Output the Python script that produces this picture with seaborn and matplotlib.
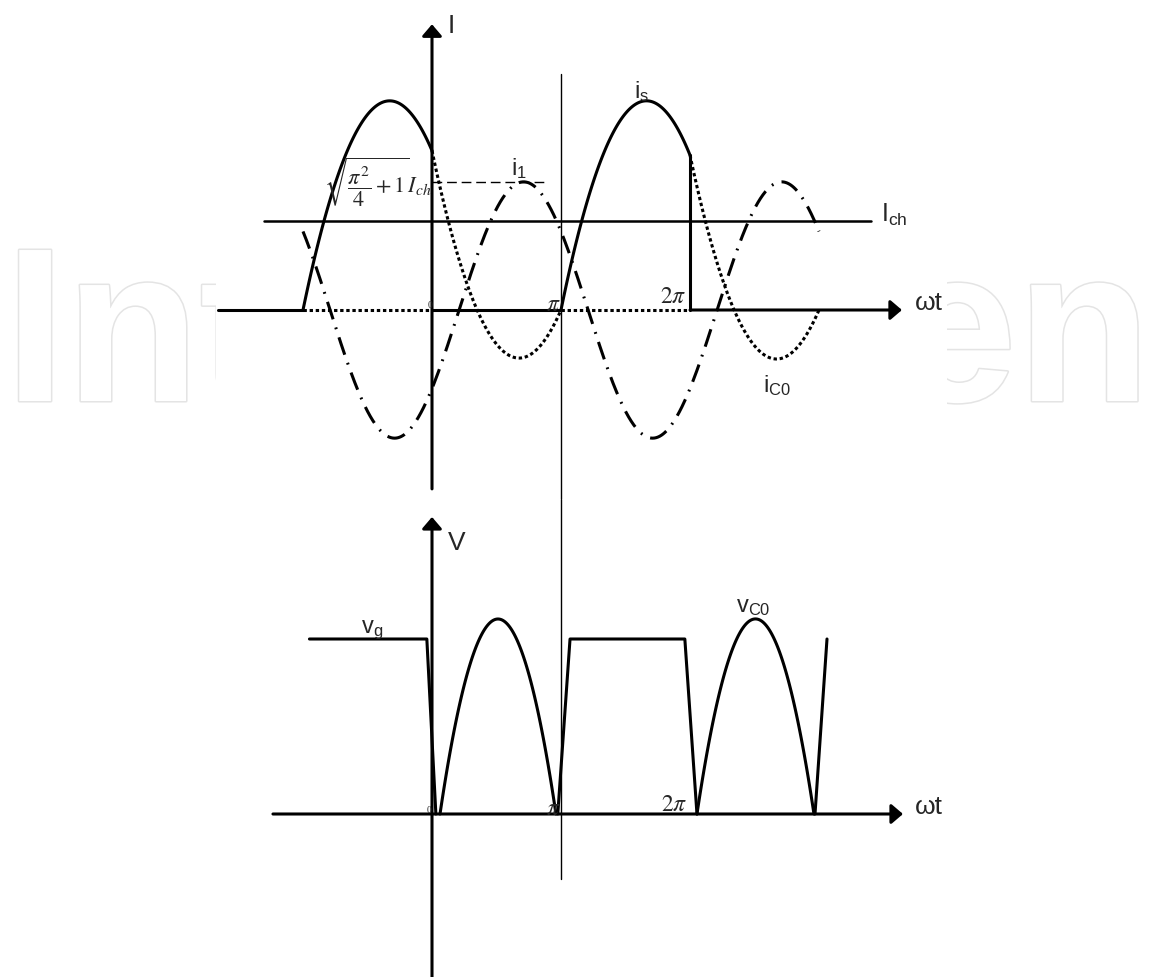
import numpy as np
import matplotlib
matplotlib.use("Agg")
import matplotlib.pyplot as plt
import matplotlib.patheffects as pe
from matplotlib.patches import Rectangle
import seaborn as sns

# x is wt/pi ; top panel in units of Ich ; bottom panel in units of vg

# --- top panel : currents
ich_level = 1.0
ich_span = [-1.30, 3.40]
i1_amp = 1.44
i1_zero = 0.21            # rising zero crossing of i1
i1_span = [-1.0, 3.0]
i1_peak_level = 1.44      # sqrt(pi^2/4+1) Ich marker
i1_peak_span = [0.0, 0.88]

is_start = [-1.0, 1.0]
is_peak_x = [-0.33, 1.67]
is_peak_y = [2.35, 2.35]
is_end = [0.0, 2.0]
is_end_y = [1.79, 1.74]
is_zero_spans = [(-1.66, -1.0), (0.0, 1.0)]

ic0_low_x = [0.67, 2.66]
ic0_low_y = [-0.54, -0.55]
ic0_end = [1.0, 3.0]
ic0_zero_spans = [(-1.0, 0.0), (1.0, 2.0)]

# --- bottom panel : voltage v_C0
vc_step_x = [[-0.95, -0.04, 0.03], [0.975, 1.07, 1.96, 2.054], [2.969, 3.062]]
vc_step_y = [[1.0, 1.0, 0.0], [0.0, 1.0, 1.0, 0.0], [0.0, 1.0]]
vc_hump_start = [0.062, 2.054]
vc_hump_peak_x = [0.504, 2.519]
vc_hump_peak_y = [1.114, 1.114]
vc_hump_end = [0.961, 2.961]


def arc(x0, y0, xm, ym, x1, y1, n=120):
    # smooth arc through start, apex and end point
    c = np.polyfit([x0, xm, x1], [y0, ym, y1], 2)
    xs = np.linspace(x0, x1, n)
    return xs, np.polyval(c, xs)


def draw(ax, x, y, lw=2.2, **kw):
    sns.lineplot(x=np.asarray(x, float), y=np.asarray(y, float), ax=ax, sort=False,
                 estimator=None, color="black", linewidth=lw, legend=False, **kw)


def arrow(ax, p0, p1, lw=2.2):
    ax.annotate("", xy=p1, xytext=p0,
                arrowprops=dict(arrowstyle="-|>,head_length=0.35,head_width=0.3",
                                color="black", lw=lw, mutation_scale=20,
                                shrinkA=0, shrinkB=0))


sns.set_theme(style="white")
plt.rcParams["font.family"] = ["Liberation Sans", "DejaVu Sans"]
plt.rcParams["mathtext.fontset"] = "custom"
plt.rcParams["mathtext.rm"] = "Liberation Sans"
plt.rcParams["mathtext.it"] = "Liberation Sans:italic"
plt.rcParams["mathtext.bf"] = "Liberation Sans:bold"

fig = plt.figure(figsize=(11.51, 9.78), dpi=100)
fig.patch.set_facecolor("white")

# watermark behind the drawing
wm = [pe.withStroke(linewidth=2.2, foreground="#e4e4e4")]
fig.text(0.004, (978 - 402) / 978, "Int", fontsize=158, family="Liberation Sans",
         weight="bold", color="white", ha="left", va="baseline", zorder=-3, path_effects=wm)
fig.text(1.0, (978 - 402) / 978, "en", fontsize=158, family="Liberation Sans",
         weight="bold", color="white", ha="right", va="baseline", zorder=-3, path_effects=wm)
fig.add_artist(Rectangle((216 / 1151, (978 - 430) / 978), (947 - 216) / 1151, 250 / 978,
                         transform=fig.transFigure, facecolor="white", edgecolor="none",
                         zorder=-2))

xlim = (-432 / 129, 719 / 129)
ax1 = fig.add_axes([0, 478 / 978, 1, 500 / 978])
ax2 = fig.add_axes([0, 0, 1, 478 / 978])
for ax in (ax1, ax2):
    ax.set_facecolor("none")
    ax.set_xlim(*xlim)
    ax.axis("off")
ax1.set_ylim((311 - 500) / 89, 311 / 89)
ax2.set_ylim((815 - 978) / 175, (815 - 500) / 175)

dotted = (0, (1.1, 0.9))
dashdot = (0, (6, 2.8, 0.6, 2.8))

# ---------------- top panel
arrow(ax1, (0, -2.01), (0, 3.21))
for a, b in is_zero_spans:
    draw(ax1, [a, b], [0, 0])
arrow(ax1, (2.0, 0), (3.643, 0))
draw(ax1, ich_span, [ich_level, ich_level], lw=1.8)
draw(ax1, [1.0, 1.0], [(311 - 75) / 89, (311 - 500) / 89], lw=1.0)

for k in range(2):
    xs, ys = arc(is_start[k], 0, is_peak_x[k], is_peak_y[k], is_end[k], is_end_y[k])
    draw(ax1, xs, ys)
    xs, ys = arc(is_end[k], is_end_y[k], ic0_low_x[k], ic0_low_y[k], ic0_end[k], 0)
    draw(ax1, xs, ys, linestyle=dotted)
draw(ax1, [is_end[1], is_end[1]], [is_end_y[1], 0])
for a, b in ic0_zero_spans:
    draw(ax1, [a, b], [0, 0], linestyle=dotted)

x1 = np.linspace(i1_span[0], i1_span[1], 600)
draw(ax1, x1, i1_amp * np.sin(np.pi * (x1 - i1_zero)), linestyle=dashdot)
draw(ax1, i1_peak_span, [i1_peak_level, i1_peak_level], lw=1.0, linestyle=(0, (7, 3.5)))

ax1.text(0.12, 3.124, "I", fontsize=19, va="baseline", ha="left")
ax1.text(3.74, 0.01, "ωt", fontsize=19, va="baseline", ha="left")
ax1.text(3.48, ich_level, r"$\mathrm{I_{ch}}$", fontsize=18, va="baseline", ha="left")
ax1.text(0.61, 1.528, r"$\mathrm{i_1}$", fontsize=17, va="baseline", ha="left")
ax1.text(1.565, 2.393, r"$\mathrm{i_s}$", fontsize=17, va="baseline", ha="left")
ax1.text(2.565, -0.91, r"$\mathrm{i_{C0}}$", fontsize=17, va="baseline", ha="left")
ax1.text(0.0, 0.034, "0", fontsize=7, family="Liberation Serif", va="baseline", ha="right")
ax1.text(1.0, 0.0, r"$\pi$", fontsize=17, math_fontfamily="stix", va="baseline", ha="right")
ax1.text(1.97, 0.09, r"$2\pi$", fontsize=17, math_fontfamily="stix", va="baseline", ha="right")
ax1.text(-0.005, 1.46, r"$\sqrt{\dfrac{\pi^2}{4}+1}I_{ch}$", fontsize=16,
         math_fontfamily="stix", va="center", ha="right")

# ---------------- bottom panel
arrow(ax2, (0, (815 - 978) / 175), (0, (815 - 518) / 175))
arrow(ax2, (-1.233, 0), (3.651, 0))
draw(ax2, [1.0, 1.0], [(815 - 500) / 175, (815 - 880) / 175], lw=1.0)
for xs, ys in zip(vc_step_x, vc_step_y):
    draw(ax2, xs, ys)
for k in range(2):
    xs, ys = arc(vc_hump_start[k], 0, vc_hump_peak_x[k], vc_hump_peak_y[k], vc_hump_end[k], 0)
    draw(ax2, xs, ys)

ax2.text(0.12, 1.514, "V", fontsize=19, va="baseline", ha="left")
ax2.text(3.74, 0.006, "ωt", fontsize=19, va="baseline", ha="left")
ax2.text(-0.55, 1.04, r"$\mathrm{v_g}$", fontsize=17, va="baseline", ha="left")
ax2.text(2.36, 1.16, r"$\mathrm{v_{C0}}$", fontsize=17, va="baseline", ha="left")
ax2.text(-0.005, 0.011, "0", fontsize=7, family="Liberation Serif", va="baseline", ha="right")
ax2.text(1.0, 0.0, r"$\pi$", fontsize=17, math_fontfamily="stix", va="baseline", ha="right")
ax2.text(1.977, 0.023, r"$2\pi$", fontsize=17, math_fontfamily="stix", va="baseline", ha="right")

fig.savefig("out.png", dpi=100, facecolor="white")
